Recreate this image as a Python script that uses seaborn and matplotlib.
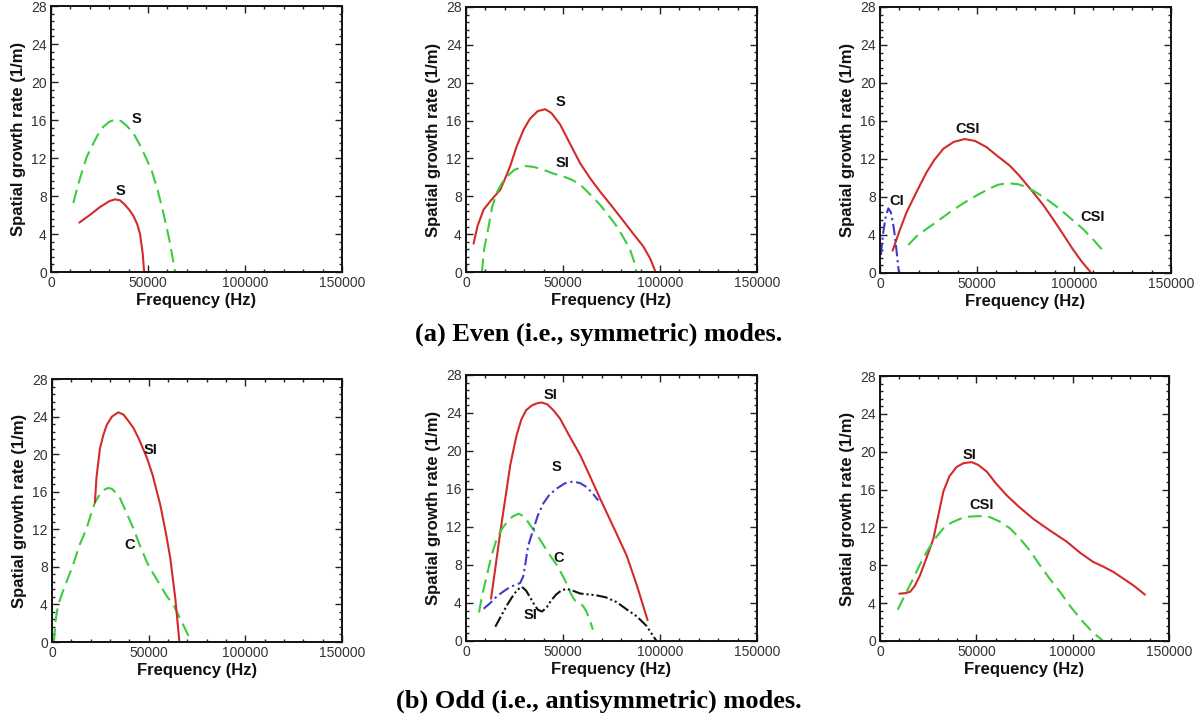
import numpy as np
import pandas as pd
import matplotlib
matplotlib.use("Agg")
import matplotlib.pyplot as plt
import seaborn as sns
from matplotlib.ticker import MultipleLocator

sns.set_theme(style="white")
plt.rcParams['font.family'] = ['Liberation Sans', 'DejaVu Sans']
plt.rcParams['text.color'] = 'black'

# ---------------- data ----------------
# (a) even modes, panel 1
a1_red_f = [14600, 20000, 25000, 30000, 33000, 35500, 38000, 40500, 42500, 44500, 45900, 47300, 48000]
a1_red_g = [5.2, 6.0, 6.8, 7.45, 7.65, 7.55, 7.1, 6.5, 5.9, 5.0, 4.0, 1.9, 0.0]
a1_grn_f = [11500, 14000, 16500, 18400, 21000, 24000, 27000, 30000, 33000, 36000, 39000, 42500, 46000, 49000, 52000, 55000, 58000, 61000, 64000]
a1_grn_g = [7.27, 9.2, 10.9, 12.1, 13.2, 14.4, 15.3, 15.8, 16.06, 15.9, 15.4, 14.6, 13.3, 12.0, 10.6, 8.6, 6.15, 3.4, 0.0]

# (a) panel 2
a2_red_f = [3900, 6000, 9100, 13000, 17700, 20000, 22800, 26000, 29700, 33000, 37000, 40800, 44000, 48500, 53000, 58800, 64000, 69100, 75000, 81100, 86000, 91400, 95000, 97700]
a2_red_g = [3.0, 4.9, 6.6, 7.6, 8.7, 9.8, 11.2, 13.2, 15.05, 16.2, 17.0, 17.2, 16.8, 15.6, 13.8, 11.5, 9.9, 8.5, 7.0, 5.4, 4.1, 2.7, 1.4, 0.0]
a2_grn_f = [8200, 9500, 11700, 13500, 15900, 18500, 21100, 25000, 30500, 35000, 39900, 45000, 50200, 55000, 58800, 63000, 69100, 73000, 77600, 81000, 84500, 86500, 87900]
a2_grn_g = [0.0, 2.6, 4.85, 6.9, 8.4, 9.4, 10.1, 10.8, 11.2, 11.1, 10.8, 10.4, 10.1, 9.7, 9.25, 8.4, 7.1, 6.1, 4.85, 3.7, 2.4, 1.2, 0.0]

# (a) panel 3
a3_red_f = [6500, 10000, 13700, 19000, 24000, 28000, 32600, 38000, 43700, 49000, 54900, 60000, 66900, 72000, 78900, 84000, 89100, 94000, 99400, 104000, 108900]
a3_red_g = [2.35, 4.4, 6.4, 8.6, 10.6, 11.9, 13.07, 13.8, 14.1, 13.9, 13.25, 12.4, 11.3, 10.2, 8.5, 7.2, 5.7, 4.2, 2.5, 1.2, 0.0]
a3_grn_f = [14600, 19000, 24000, 30000, 36000, 43000, 49700, 56000, 61000, 66000, 71000, 75000, 78900, 85000, 92600, 98000, 104600, 110000, 115700]
a3_grn_g = [2.95, 3.9, 4.64, 5.5, 6.4, 7.35, 8.15, 8.85, 9.3, 9.45, 9.35, 9.1, 8.68, 7.9, 6.75, 5.8, 4.64, 3.5, 2.18]
a3_blu_f = [500, 1000, 1700, 3000, 4300, 5600, 6900, 7800, 8600, 9200, 9800]
a3_blu_g = [1.9, 3.0, 4.3, 6.0, 6.8, 6.4, 5.0, 3.7, 2.2, 1.0, 0.0]

# (b) odd modes, panel 1
b1_red_f = [22200, 23000, 24800, 26500, 28300, 31000, 34300, 37000, 40000, 42100, 45000, 49100, 52000, 56000, 59000, 61200, 63800, 65900]
b1_red_g = [14.85, 17.5, 20.6, 22.0, 23.1, 24.0, 24.45, 24.2, 23.4, 22.8, 21.6, 19.6, 17.8, 14.6, 11.5, 8.9, 4.6, 0.0]
b1_grn_f = [1000, 1800, 3100, 6000, 10900, 14000, 17900, 20000, 22200, 25000, 27000, 29100, 31000, 33000, 35200, 38000, 42100, 45000, 49100, 52000, 56000, 59000, 62900, 67000, 71300]
b1_grn_g = [0.0, 2.2, 3.9, 5.6, 8.2, 10.2, 12.1, 13.5, 14.85, 15.8, 16.2, 16.4, 16.3, 15.9, 15.3, 14.0, 12.1, 10.5, 8.5, 7.4, 6.05, 5.0, 3.9, 2.2, 0.35]

# (b) panel 2
b2_red_f = [12900, 15000, 17700, 22800, 26000, 28500, 31000, 34000, 37000, 39100, 42000, 45000, 48500, 53000, 58800, 64000, 69100, 76000, 82800, 88000, 93600]
b2_red_g = [4.46, 7.5, 11.5, 18.5, 21.6, 23.3, 24.3, 24.8, 25.05, 25.1, 24.9, 24.3, 23.4, 21.7, 19.6, 17.3, 15.0, 12.0, 9.0, 5.9, 2.2]
b2_grn_f = [6700, 8500, 10800, 13000, 15900, 18500, 21100, 24000, 27100, 30000, 33100, 36500, 39900, 43000, 46800, 49500, 52000, 54000, 56000, 58500, 60300, 62100, 63800, 65400]
b2_grn_g = [3.0, 5.0, 6.9, 8.9, 10.8, 11.8, 12.5, 13.1, 13.4, 13.1, 12.2, 11.2, 10.1, 9.1, 8.0, 7.0, 6.0, 5.0, 4.3, 4.0, 3.7, 3.1, 2.2, 1.2]
b2_blu_f = [9100, 12000, 15900, 19200, 22800, 25500, 27900, 29500, 30500, 32000, 34800, 37000, 39900, 43000, 46800, 51000, 55400, 59000, 62200, 65000, 68200]
b2_blu_g = [3.4, 3.9, 4.7, 5.2, 5.7, 5.9, 6.1, 6.8, 8.0, 10.0, 11.8, 13.2, 14.5, 15.4, 16.05, 16.6, 16.8, 16.6, 16.2, 15.6, 14.8]
b2_blk_f = [15100, 18000, 21100, 24000, 26500, 28800, 31000, 33000, 35000, 37000, 39100, 41500, 44000, 46500, 49000, 51900, 55000, 58800, 63000, 67400, 72000, 77600, 83000, 88000, 93000, 98200]
b2_blk_g = [1.5, 2.6, 3.76, 4.7, 5.4, 5.7, 5.3, 4.6, 3.9, 3.3, 3.1, 3.5, 4.3, 4.9, 5.3, 5.5, 5.3, 5.0, 4.9, 4.8, 4.6, 4.1, 3.3, 2.6, 1.6, 0.0]

# (b) panel 3
b3_red_f = [10000, 13000, 15600, 18000, 20800, 24000, 27700, 30500, 32900, 36000, 39800, 43500, 47600, 51000, 55400, 60000, 65700, 72000, 79600, 88000, 96900, 104000, 110700, 116000, 121100, 127000, 132000, 137500]
b3_red_g = [5.0, 5.05, 5.2, 5.8, 6.95, 8.7, 10.8, 13.5, 15.8, 17.4, 18.4, 18.8, 18.9, 18.6, 17.9, 16.7, 15.4, 14.2, 12.9, 11.7, 10.5, 9.3, 8.35, 7.85, 7.3, 6.5, 5.8, 4.9]
b3_grn_f = [9200, 13000, 17300, 20500, 24200, 28500, 32900, 37000, 41500, 46500, 51900, 57000, 62300, 67500, 72700, 78000, 83000, 88000, 93400, 99000, 105500, 110500, 115900]
b3_grn_g = [3.3, 4.9, 6.6, 8.0, 9.4, 10.8, 11.9, 12.5, 12.9, 13.15, 13.2, 13.1, 12.6, 11.9, 10.8, 9.5, 8.0, 6.6, 5.2, 3.6, 2.0, 0.9, 0.0]

# curve labels: (text, frequency, growth rate)
a1_labels = [("S", 44200, 16.1), ("S", 36000, 8.5)]
a2_labels = [("S", 48500, 18.0), ("SI", 49700, 11.5)]
a3_labels = [("CI", 8600, 7.6), ("CSI", 45400, 15.2), ("CSI", 109700, 5.9)]
b1_labels = [("SI", 50800, 20.4), ("C", 40100, 10.3)]
b2_labels = [("SI", 43400, 25.9), ("S", 46800, 18.3), ("C", 47700, 8.7), ("SI", 33100, 2.7)]
b3_labels = [("SI", 46700, 19.7), ("CSI", 52800, 14.35)]

x_ticks = [0, 50000, 100000, 150000]
y_ticks = [0, 4, 8, 12, 16, 20, 24, 28]
x_label = "Frequency (Hz)"
y_label = "Spatial growth rate (1/m)"
caption_a = "(a) Even (i.e., symmetric) modes."
caption_b = "(b) Odd (i.e., antisymmetric) modes."

# ---------------- styles ----------------
RED = "#d42a2a"
GREEN = "#3ccc3c"
BLUE = "#3c3ccc"
BLACK = "#111111"
STY = {
    "red": dict(color=RED, dashes=None),
    "grn": dict(color=GREEN, dashes=[6.5, 3.2]),
    "blu": dict(color=BLUE, dashes=[5.5, 1.8, 1.1, 1.8]),
    "blk": dict(color=BLACK, dashes=[5.5, 1.4, 1, 1.4, 1, 1.4]),
}

W, H = 1203, 719
fig = plt.figure(figsize=(W / 100, H / 100), dpi=100)


def add_axes(l, r, t, b):
    return fig.add_axes([l / W, 1 - b / H, (r - l) / W, (b - t) / H])


panels = [
    (add_axes(51, 342, 6, 272), [("red", a1_red_f, a1_red_g), ("grn", a1_grn_f, a1_grn_g)], a1_labels),
    (add_axes(466, 757, 7, 272), [("red", a2_red_f, a2_red_g), ("grn", a2_grn_f, a2_grn_g)], a2_labels),
    (add_axes(880, 1171, 7, 273), [("red", a3_red_f, a3_red_g), ("grn", a3_grn_f, a3_grn_g), ("blu", a3_blu_f, a3_blu_g)], a3_labels),
    (add_axes(52, 342, 379, 642), [("grn", b1_grn_f, b1_grn_g), ("red", b1_red_f, b1_red_g)], b1_labels),
    (add_axes(466, 757, 375, 641), [("red", b2_red_f, b2_red_g), ("grn", b2_grn_f, b2_grn_g), ("blu", b2_blu_f, b2_blu_g), ("blk", b2_blk_f, b2_blk_g)], b2_labels),
    (add_axes(880, 1169, 376, 641), [("red", b3_red_f, b3_red_g), ("grn", b3_grn_f, b3_grn_g)], b3_labels),
]

for ax, series, labels in panels:
    for key, f, g in series:
        df = pd.DataFrame({"f": f, "g": g})
        sns.lineplot(data=df, x="f", y="g", ax=ax, sort=False, estimator=None,
                     color=STY[key]["color"], linewidth=1.5)
        ln = ax.lines[-1]
        if STY[key]["dashes"] is not None:
            ln.set_dashes(STY[key]["dashes"])
    for txt, fx, gy in labels:
        ax.text(fx, gy, txt, ha="center", va="center", fontsize=10.5,
                fontweight="bold", color="#111111")
    ax.set_xlim(0, 150000)
    ax.set_ylim(0, 28)
    ax.set_xticks(x_ticks)
    ax.set_xticklabels([str(v) for v in x_ticks])
    ax.set_yticks(y_ticks)
    ax.set_yticklabels([str(v) for v in y_ticks])
    ax.xaxis.set_minor_locator(MultipleLocator(10000))
    ax.yaxis.set_minor_locator(MultipleLocator(0.8))
    ax.tick_params(which="both", direction="in", top=True, right=True,
                   bottom=True, left=True, color="#222222", width=1.0)
    ax.tick_params(which="major", length=5, labelsize=10, labelcolor="#333333", pad=3)
    ax.tick_params(which="minor", length=2.5)
    for sp in ax.spines.values():
        sp.set_visible(True)
        sp.set_color("#111111")
        sp.set_linewidth(1.4)
    ax.set_xlabel(x_label, fontsize=12, fontweight="bold", labelpad=2, color="#111111")
    ax.set_ylabel(y_label, fontsize=12, fontweight="bold", labelpad=4, color="#111111")
    ax.set_facecolor("white")

fig.text(599 / W, 1 - 334 / H, caption_a, ha="center", va="center", color="black",
         fontsize=19, fontweight="bold", family=["Liberation Serif", "DejaVu Serif"])
fig.text(599 / W, 1 - 701 / H, caption_b, ha="center", va="center", color="black",
         fontsize=19, fontweight="bold", family=["Liberation Serif", "DejaVu Serif"])

fig.savefig("out.png", dpi=100, facecolor="white")
